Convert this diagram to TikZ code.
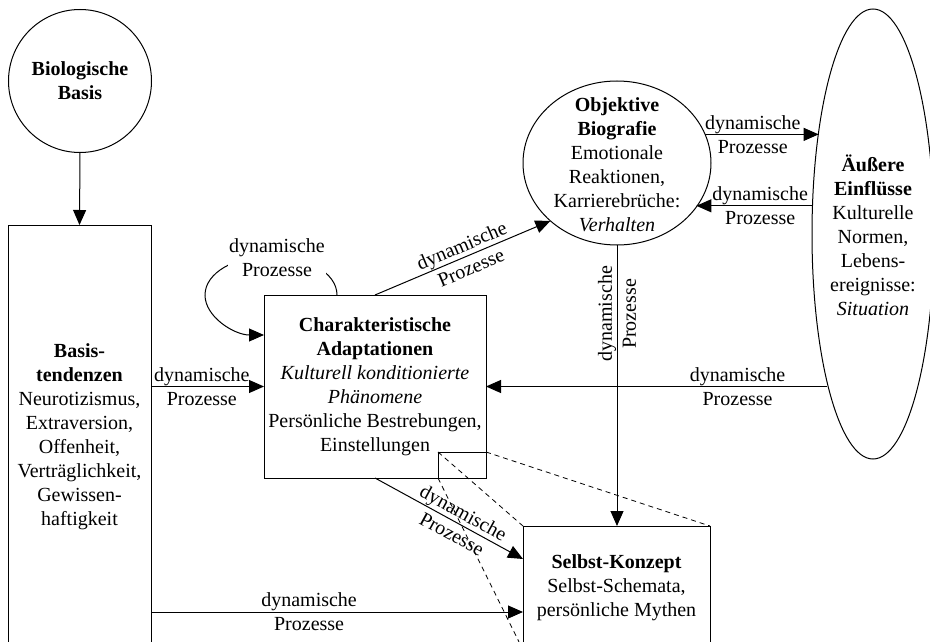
\documentclass[tikz,border=0pt]{standalone}
\usepackage{fontspec}
\setmainfont{Liberation Serif}
\usetikzlibrary{arrows.meta,shapes.geometric}
\begin{document}
\begin{tikzpicture}[x=1pt,y=-1pt,
  every node/.style={font=\fontsize{20}{24}\selectfont, align=center},
  boxnode/.style={draw, line width=1pt, fill=white, inner sep=2pt, outer sep=0pt, rectangle},
  roundnode/.style={draw, line width=1pt, fill=white, inner sep=0pt, outer sep=0pt, ellipse},
  flow/.style={line width=1pt, -{Triangle[length=15pt,width=13pt]}},
  zoomline/.style={line width=0.8pt, dash pattern=on 5pt off 4pt},
  proc/.style={inner sep=0pt}
]
\useasboundingbox (0,0) rectangle (930,642);

% shapes
\node[roundnode, circle, minimum size=143pt] (bio) at (80,81) {};
\node (biotxt) at (bio.center) {\textbf{Biologische}\\\textbf{Basis}};

\node[boxnode, minimum width=143pt, minimum height=423pt] (basis) at (79.5,436.5)
  {\textbf{Basis-}\\\textbf{tendenzen}\\Neurotizismus,\\Extraversion,\\Offenheit,\\Verträglichkeit,\\Gewissen-\\haftigkeit};

\node[boxnode, minimum width=222pt, minimum height=183pt] (char) at (375,386.5)
  {\textbf{Charakteristische}\\\textbf{Adaptationen}\\\textit{Kulturell konditionierte}\\\textit{Phänomene}\\Persönliche Bestrebungen,\\Einstellungen};

\node[draw, line width=1pt, minimum width=48pt, minimum height=26pt, inner sep=0pt, outer sep=0pt,
  anchor=south east] (detail) at (char.south east) {};

\node[roundnode, minimum width=188pt, minimum height=164pt] (obj) at (617,163) {};
\node (objtxt) at (617,165) {\textbf{Objektive}\\\textbf{Biografie}\\Emotionale\\Reaktionen,\\Karrierebrüche:\\\textit{Verhalten}};

\node[roundnode, minimum width=122pt, minimum height=450pt] (aus) at (873,234) {};
\node (austxt) at (873,235.5) {\textbf{Äußere}\\\textbf{Einflüsse}\\Kulturelle\\Normen,\\Lebens-\\ereignisse:\\\textit{Situation}};

\node[boxnode, minimum width=187pt, minimum height=124pt] (sb) at (616.5,588)
  {\textbf{Selbst-Konzept}\\Selbst-Schemata,\\persönliche Mythen};

% magnified detail of the adaptations box
\draw[zoomline] (detail.north west) -- (sb.north west);
\draw[zoomline] (detail.north east) -- (sb.north east);
\draw[zoomline] (detail.south west) -- (sb.south west);

% connectors
\draw[flow] (bio.south) -- (basis.north);

\draw[flow] (basis.east |- char.west) -- (char.west)
  node[proc, pos=0.45] {dynamische\\Prozesse};

\draw[flow] ([yshift=-24pt]basis.east |- sb.west) -- ([yshift=-24pt]sb.west)
  node[proc, pos=0.425] {dynamische\\Prozesse};

\draw[flow] (aus.253.7 |- char.east) -- (char.east)
  node[proc, pos=0.263] {dynamische\\Prozesse};

\draw[flow] (obj.18.9) -- (aus.118.4 |- obj.18.9)
  node[proc, pos=0.42] {dynamische\\Prozesse};

\draw[flow] (aus.155.2) -- (obj.331.7 |- aus.155.2)
  node[proc, pos=0.45] {dynamische\\Prozesse};

\draw[flow] (obj.south) -- (obj.south |- sb.north)
  node[proc, pos=0.245, rotate=90] {dynamische\\Prozesse};

\draw[flow] (char.north) -- (obj.221.1)
  node[proc, pos=0.52, sloped] {dynamische\\Prozesse};

\draw[flow] (char.south) -- ([yshift=-33pt]sb.north west)
  node[proc, pos=0.56, sloped] {dynamische\\Prozesse};

% self-loop on the adaptations box
\draw[flow] ([xshift=-38pt]char.north)
  .. controls (337,273) and (307.5,256) .. (271,256)
  .. controls (234.5,256) and (205,273) .. (205,295)
  .. controls (205,317) and (234.5,335) .. ([yshift=51.5pt]char.west);
\node[fill=white, inner sep=1pt] (looplabel) at (277,258) {dynamische\\Prozesse};

\end{tikzpicture}
\end{document}
